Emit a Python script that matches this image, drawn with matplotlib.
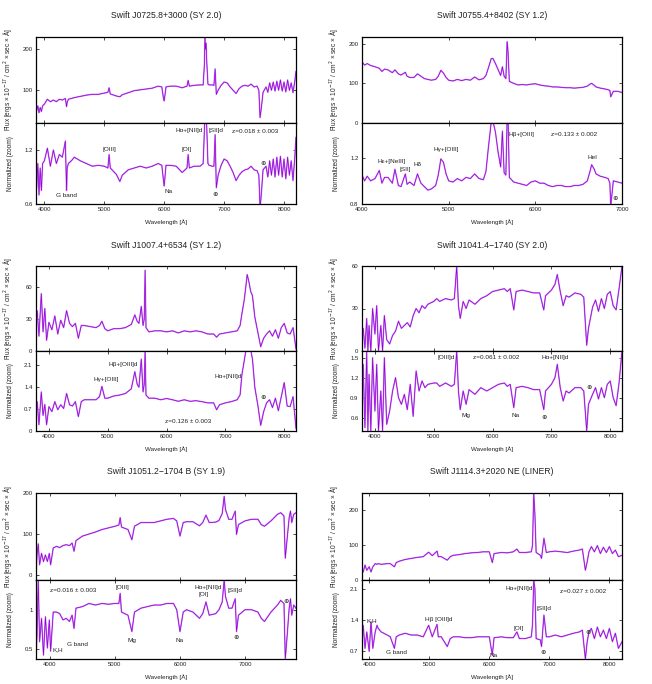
import matplotlib
matplotlib.use("Agg")
import matplotlib.pyplot as plt

plt.rcParams['font.family'] = ['Liberation Sans', 'DejaVu Sans']

# ---------------- data ----------------
titles = ["Swift J0725.8+3000 (SY 2.0)", "Swift J0755.4+8402 (SY 1.2)",
          "Swift J1007.4+6534 (SY 1.2)", "Swift J1041.4\u22121740 (SY 2.0)",
          "Swift J1051.2\u22121704 B (SY 1.9)", "Swift J1114.3+2020 NE (LINER)"]

# Panel 1
p1_wave = [3870,3890,3910,3930,3950,3970,4000,4050,4100,4150,4200,4250,4300,4350,4370,4380,4400,4450,4500,4600,4700,4800,4900,5000,5060,5080,5100,5200,5260,5300,5400,5500,5600,5700,5800,5900,5960,5990,6000,6030,6100,6200,6300,6380,6400,6420,6500,6600,6650,6670,6680,6690,6700,6710,6730,6750,6800,6830,6850,6870,6900,6950,7000,7050,7100,7150,7200,7250,7300,7350,7400,7450,7500,7550,7580,7600,7620,7650,7700,7730,7760,7790,7820,7850,7880,7910,7940,7970,8000,8030,8060,8090,8120,8150,8180,8200]
p1_flux = [50,62,45,58,48,62,66,78,72,76,72,78,76,80,60,70,78,80,82,85,88,90,90,93,95,106,91,86,84,89,94,99,101,103,105,110,108,78,74,108,110,110,106,110,124,110,112,113,113,160,228,200,215,170,115,113,113,112,152,90,100,112,120,118,108,100,92,104,110,112,110,115,108,110,100,33,55,95,108,95,118,100,120,98,122,100,125,98,120,96,125,100,118,94,122,146]
p1_norm = [0.78,1.05,0.70,1.00,0.75,1.05,1.08,1.22,1.02,1.20,1.05,1.15,1.12,1.30,0.75,1.00,1.05,1.08,1.12,1.08,1.05,1.02,1.03,1.02,1.00,1.15,1.00,0.93,0.85,0.92,0.98,1.00,1.02,1.00,1.02,1.05,1.03,0.85,0.80,1.03,1.03,1.02,0.95,1.00,1.15,1.00,1.02,1.02,1.05,1.40,1.60,1.55,1.60,1.45,1.05,1.03,1.02,1.02,1.37,0.78,0.92,1.03,1.10,1.08,1.02,0.95,0.86,0.92,0.96,0.98,0.99,1.02,0.98,0.97,0.92,0.55,0.70,0.98,1.02,0.90,1.08,0.92,1.10,0.90,1.12,0.92,1.13,0.90,1.10,0.88,1.12,0.92,1.08,0.86,1.12,1.34]

# Panel 2
p2_wave = [4000,4030,4060,4100,4150,4200,4230,4260,4300,4350,4380,4420,4450,4500,4520,4550,4600,4640,4680,4720,4760,4800,4850,4880,4910,4940,4970,5000,5050,5100,5150,5200,5250,5300,5350,5400,5430,5460,5490,5510,5540,5570,5600,5620,5640,5660,5675,5685,5700,5750,5800,5850,5900,5950,6000,6050,6100,6150,6200,6250,6300,6350,6400,6450,6500,6550,6600,6630,6650,6680,6700,6750,6800,6840,6860,6870,6900,6950,7000]
p2_flux = [154,146,150,145,142,138,130,136,134,127,134,124,121,128,118,115,115,124,118,112,110,108,110,118,133,126,115,108,106,110,107,110,108,116,109,112,120,140,162,163,150,135,120,142,118,112,205,180,105,100,96,97,96,98,99,96,94,93,91,91,90,89,89,88,89,90,93,98,100,95,91,88,86,84,82,66,80,80,77]
p2_norm = [1.05,1.00,1.04,1.00,1.02,1.09,0.98,1.03,1.03,0.98,1.10,0.96,0.95,1.06,0.97,0.99,0.96,1.06,0.98,0.95,0.92,0.93,0.96,1.05,1.19,1.16,1.06,1.00,0.99,1.02,1.00,1.03,1.02,1.06,1.02,1.01,1.08,1.30,1.50,1.52,1.42,1.25,1.12,1.43,1.07,1.05,1.55,1.55,1.03,0.99,0.98,0.97,0.96,0.99,1.00,0.98,0.98,0.96,0.95,0.96,0.96,0.95,0.95,0.96,0.96,0.97,1.00,1.08,1.14,1.10,1.06,1.04,1.03,1.02,0.98,0.78,1.00,0.99,0.98]

# Panel 3
p3_wave = [3780,3800,3830,3870,3900,3930,3960,4000,4050,4100,4150,4200,4250,4300,4350,4400,4450,4500,4550,4600,4700,4800,4860,4900,4950,5000,5100,5200,5300,5400,5460,5500,5530,5570,5600,5620,5635,5650,5700,5800,5900,6000,6100,6200,6300,6400,6500,6600,6700,6800,6850,6900,7000,7100,7200,7250,7280,7320,7350,7370,7400,7430,7460,7500,7550,7600,7650,7700,7750,7800,7850,7900,7950,8000,8050,8100,8150,8200]
p3_flux = [24,38,14,54,18,40,10,27,20,33,16,29,22,38,26,23,26,12,24,24,23,22,24,28,21,19,21,21,22,25,34,28,26,42,24,30,76,22,18,19,19,18,19,17,19,18,19,18,16,16,13,16,17,18,19,24,35,48,62,72,65,56,52,32,18,4,12,16,19,14,20,12,22,26,17,16,22,2]
p3_norm = [0.62,0.94,0.20,1.25,0.50,0.85,0.20,0.78,0.62,0.94,0.68,0.84,0.72,1.20,0.84,0.80,0.94,0.46,0.94,1.00,1.00,1.00,1.10,1.43,1.05,1.05,1.12,1.15,1.20,1.35,1.90,1.50,1.40,2.30,1.25,1.50,2.60,1.15,1.05,1.05,1.00,1.04,1.00,0.95,1.00,0.95,0.97,0.94,0.90,0.90,0.68,0.84,0.90,0.94,1.00,1.16,1.80,2.25,2.60,2.60,2.60,2.60,2.30,1.40,0.84,0.18,0.62,0.90,1.00,0.75,1.05,0.65,1.10,1.55,0.80,0.78,1.10,0.09]

# Panel 4
p4_wave = [3780,3800,3830,3860,3880,3900,3930,3960,4000,4030,4060,4100,4130,4160,4200,4250,4300,4350,4400,4450,4500,4550,4600,4650,4700,4750,4800,4850,4900,5000,5050,5100,5200,5300,5350,5390,5420,5450,5500,5550,5600,5700,5800,5900,6000,6100,6200,6250,6300,6360,6400,6500,6600,6700,6800,6870,6900,7000,7060,7100,7150,7200,7250,7300,7400,7500,7550,7600,7630,7700,7750,7800,7850,7900,7950,8000,8050,8100,8150,8200]
p4_flux = [9,16,2,23,0,18,0,30,12,32,0,18,0,25,8,5,11,14,21,16,18,20,17,25,30,27,32,30,33,35,37,35,37,36,37,60,32,23,35,30,36,33,37,39,42,43,44,42,44,29,42,43,42,41,41,29,39,43,47,54,42,32,39,38,41,40,38,4,16,31,36,28,37,30,40,42,32,29,44,60]
p4_norm = [1.10,1.40,0.45,1.60,0.40,1.25,0.40,1.50,0.70,1.40,0.40,1.00,0.40,1.50,0.50,0.70,1.00,1.20,0.90,0.80,0.95,0.72,1.10,0.62,1.30,1.00,1.15,1.05,1.10,1.12,1.12,1.07,1.12,1.07,1.10,1.60,1.00,0.72,1.00,0.80,1.02,0.95,1.05,1.00,1.05,1.10,1.12,1.07,1.10,0.75,1.05,1.07,1.05,1.02,1.02,0.72,1.00,1.10,1.20,1.40,1.05,0.85,1.00,0.97,1.05,1.05,1.00,0.40,0.80,0.95,1.05,0.88,1.05,0.90,1.10,1.15,0.90,0.78,1.12,1.60]

# Panel 5
p5_wave = [3785,3800,3820,3840,3870,3900,3930,3960,3990,4010,4050,4100,4150,4200,4250,4300,4340,4370,4400,4500,4600,4700,4800,4900,5000,5060,5080,5100,5200,5260,5300,5400,5500,5600,5700,5800,5900,5950,6000,6050,6100,6200,6300,6350,6400,6450,6550,6600,6650,6680,6700,6750,6800,6850,6870,6900,7000,7100,7200,7250,7300,7400,7500,7550,7600,7620,7650,7680,7700,7720,7750,7785]
p5_flux = [2,49,76,25,53,33,49,33,53,25,66,70,67,72,74,72,78,58,84,95,100,105,111,115,119,122,140,117,111,86,119,128,128,128,132,136,138,132,95,128,130,130,120,128,146,128,129,133,150,192,160,136,136,156,99,123,132,136,136,123,119,132,148,152,144,41,91,140,156,128,148,152]
p5_norm = [0.37,0.68,1.38,0.59,0.89,0.42,0.91,0.51,0.87,0.47,0.97,0.97,0.95,0.87,0.89,0.85,0.93,0.76,1.02,1.04,1.08,1.06,1.08,1.07,1.08,1.08,1.21,0.97,0.93,0.72,0.97,1.02,1.04,1.06,1.06,1.08,1.08,1.00,0.72,0.97,1.00,0.97,0.89,0.95,1.10,0.93,0.95,1.00,1.10,1.38,1.17,1.02,1.02,1.14,0.72,0.93,1.00,1.00,0.97,0.89,0.85,0.97,1.06,1.12,1.08,0.37,0.68,1.02,1.14,0.93,1.06,1.02]

# Panel 6
p6_wave = [3880,3900,3930,3960,4000,4030,4060,4100,4130,4150,4200,4300,4350,4420,4450,4500,4600,4700,4800,4900,4990,5050,5130,5150,5200,5300,5350,5400,5500,5600,5700,5800,5900,6000,6050,6080,6200,6300,6400,6460,6500,6600,6700,6720,6740,6760,6780,6850,6870,6910,6950,7000,7100,7200,7300,7400,7500,7550,7600,7630,7660,7700,7750,7800,7850,7900,7950,8000,8050,8100,8150,8210]
p6_flux = [33,23,43,28,38,23,38,47,45,47,45,47,47,38,50,54,59,62,65,67,80,70,83,67,67,57,67,71,73,76,78,79,81,81,50,76,79,78,81,89,79,79,81,100,250,187,79,71,62,120,79,81,83,81,79,83,86,89,28,52,81,96,81,99,76,94,79,96,76,86,67,71]
p6_norm = [0.91,1.28,0.76,1.13,0.69,1.36,0.76,1.13,1.28,1.21,1.13,1.06,1.02,0.76,1.02,1.06,1.10,1.06,1.06,1.02,1.28,1.02,1.30,1.02,1.02,0.80,0.98,1.02,1.02,1.00,1.00,1.02,1.02,1.02,0.61,1.00,1.02,1.00,1.00,1.13,0.98,0.98,1.02,1.30,2.30,2.10,0.98,0.95,0.80,1.51,1.02,1.02,1.06,1.02,1.06,1.10,1.13,1.17,0.52,0.91,1.13,1.21,0.98,1.24,1.02,1.17,0.98,1.21,0.91,1.10,0.76,0.91]

# axis settings per panel
xlims = [(3860, 8200), (4000, 7000), (3780, 8200), (3780, 8200), (3785, 7785), (3880, 8210)]
flux_lims = [(20, 230), (0, 217), (0, 80), (0, 60), (-12, 200), (0, 250)]
norm_lims = [(0.6, 1.5), (0.8, 1.5), (0, 2.56), (0.4, 1.6), (0.37, 1.38), (0.52, 2.3)]
xticks = [[4000, 5000, 6000, 7000, 8000], [4000, 5000, 6000, 7000],
          [4000, 5000, 6000, 7000, 8000], [4000, 5000, 6000, 7000, 8000],
          [4000, 5000, 6000, 7000], [4000, 5000, 6000, 7000, 8000]]
flux_ticks = [[100, 200], [0, 100, 200], [0, 30, 60], [0, 30, 60], [0, 100, 200], [0, 100, 200]]
norm_ticks = [[0.6, 1.2], [0.8, 1.2], [0, 0.7, 1.4, 2.1], [0.6, 0.9, 1.2, 1.5], [0.5, 1.0], [0.7, 1.4, 2.1]]
norm_tick_labels = [["0.6", "1.2"], ["0.8", "1.2"], ["0", "0.7", "1.4", "2.1"],
                    ["0.6", "0.9", "1.2", "1.5"], ["0.5", "1"], ["0.7", "1.4", "2.1"]]

# annotations (text, wavelength, normalized value)
annots = [
    [("H\u03b1+[NII]d", 6418, 1.42), ("[SII]d", 6869, 1.42), ("z=0.018 \u00b1 0.003", 7521, 1.41),
     ("[OIII]", 5086, 1.2), ("[OI]", 6379, 1.2), ("G band", 4362, 0.69), ("Na", 6072, 0.74),
     ("\u2295", 6852, 0.70), ("\u2295", 7643, 1.05)],
    [("H\u03b5+[NeIII]", 4344, 1.17), ("[SII]", 4502, 1.10), ("H\u03b4", 4642, 1.14),
     ("H\u03b3+[OIII]", 4970, 1.27), ("H\u03b2+[OIII]", 5844, 1.40), ("z=0.133 \u00b1 0.002", 6451, 1.40),
     ("HeI", 6656, 1.20), ("\u2295", 6915, 0.85)],
    [("H\u03b2+[OIII]d", 5262, 2.12), ("H\u03b3+[OIII]", 4968, 1.64), ("H\u03b1+[NII]d", 7050, 1.75),
     ("\u2295", 7639, 1.07), ("z=0.126 \u00b1 0.003", 6366, 0.30)],
    [("[OIII]d", 5205, 1.5), ("z=0.061 \u00b1 0.002", 6066, 1.5), ("H\u03b1+[NII]d", 7062, 1.5),
     ("Mg", 5545, 0.63), ("Na", 6394, 0.63), ("\u2295", 6875, 0.61), ("\u2295", 7639, 1.05)],
    [("z=0.016 \u00b1 0.003", 4359, 1.24), ("[OIII]", 5118, 1.28), ("H\u03b1+[NII]d", 6436, 1.29),
     ("[OI]", 6369, 1.19), ("[SII]d", 6846, 1.24), ("Mg", 5256, 0.61), ("Na", 6000, 0.61),
     ("\u2295", 6862, 0.65), ("\u2295", 7631, 1.10), ("G band", 4420, 0.56), ("K,H", 4128, 0.49)],
    [("H\u03b1+[NII]d", 6500, 2.10), ("z=0.027 \u00b1 0.002", 7567, 2.03), ("[SII]d", 6917, 1.66),
     ("K,H", 4044, 1.37), ("H\u03b2 [OIII]d", 5156, 1.41), ("[OI]", 6489, 1.21),
     ("G band", 4456, 0.67), ("Na", 6072, 0.61), ("\u2295", 6889, 0.67), ("\u2295", 7650, 1.11)],
]

waves = [p1_wave, p2_wave, p3_wave, p4_wave, p5_wave, p6_wave]
fluxes = [p1_flux, p2_flux, p3_flux, p4_flux, p5_flux, p6_flux]
norms = [p1_norm, p2_norm, p3_norm, p4_norm, p5_norm, p6_norm]

# ---------------- layout (pixels) ----------------
W, H = 652, 684
col_left = [36, 362]
ax_w = 260
rows = [(37, 123, 204), (266, 351, 431), (493, 580, 659)]

DARK = '#9400d3'
LIGHT = '#cc8cf5'
TXT = '#222222'

fig = plt.figure(figsize=(W / 100, H / 100), dpi=100)

def style_axis(ax):
    ax.tick_params(direction='in', top=True, right=True, length=2.5, width=0.5,
                   labelsize=4.3, pad=2.5, labelcolor=TXT)
    for s in ax.spines.values():
        s.set_linewidth(0.9)

for i in range(6):
    r, c = divmod(i, 2)
    top, mid, bot = rows[r]
    left = col_left[c] / W
    wfrac = ax_w / W
    ax_t = fig.add_axes([left, 1 - mid / H, wfrac, (mid - top) / H])
    ax_b = fig.add_axes([left, 1 - bot / H, wfrac, (bot - mid) / H], sharex=ax_t)

    for ax, y in ((ax_t, fluxes[i]), (ax_b, norms[i])):
        ax.plot(waves[i], y, color=LIGHT, lw=1.1, solid_joinstyle='round')
        ax.plot(waves[i], y, color=DARK, lw=0.5, solid_joinstyle='round')
        style_axis(ax)

    ax_t.set_xlim(*xlims[i])
    ax_t.set_ylim(*flux_lims[i])
    ax_b.set_ylim(*norm_lims[i])
    ax_t.set_xticks(xticks[i])
    ax_t.set_yticks(flux_ticks[i])
    ax_b.set_yticks(norm_ticks[i])
    ax_b.set_yticklabels(norm_tick_labels[i])
    ax_t.tick_params(labelbottom=False)

    ax_t.set_ylabel('Flux [ergs \u00d7 10$^{-17}$ / cm$^{2}$ \u00d7 sec \u00d7 \u00c5]',
                    fontsize=4.7, color=TXT)
    ax_t.yaxis.set_label_coords(-22 / ax_w, 0.5)
    ax_b.set_ylabel('Normalized (zoom)', fontsize=4.7, color=TXT)
    ax_b.yaxis.set_label_coords(-22 / ax_w, 0.5)
    ax_b.set_xlabel('Wavelength [\u00c5]', fontsize=4.5, color=TXT)
    ax_b.xaxis.set_label_coords(0.5, -15 / (bot - mid))

    ax_t.text(0.5, 1 + 21 / (mid - top), titles[i], transform=ax_t.transAxes,
              ha='center', va='center', fontsize=6.2, color=TXT)

    for txt, xw, yv in annots[i]:
        ax_b.text(xw, yv, txt, ha='center', va='center', fontsize=4.6, color=TXT,
                  family=['Liberation Sans', 'DejaVu Sans'], clip_on=False)

fig.savefig('out.png', dpi=100)
